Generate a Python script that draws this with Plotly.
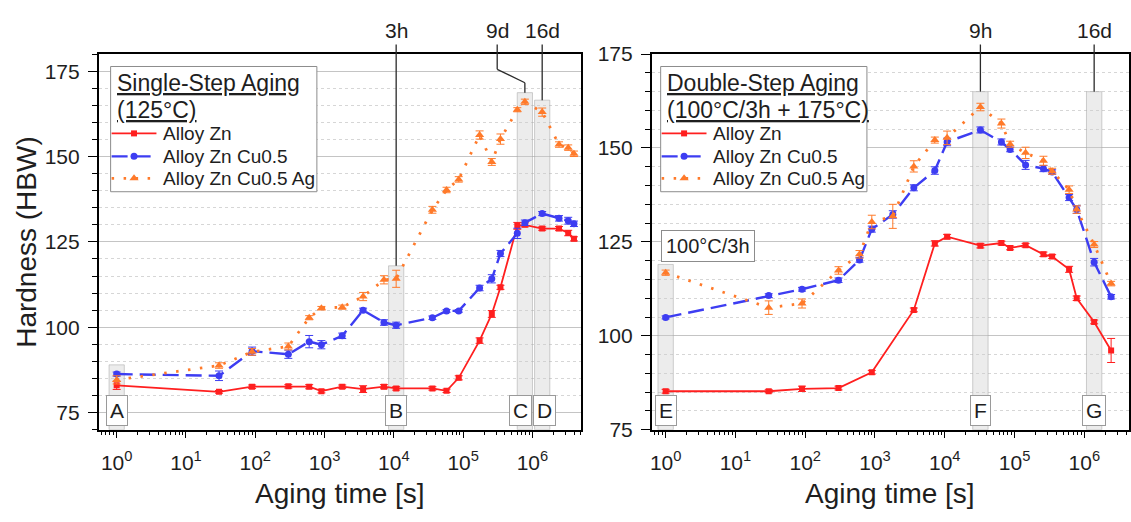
import numpy as np
import plotly.graph_objects as go

# ---------------- single-step aging (125 °C) ----------------
single_time = [1, 30, 90, 300, 600, 900, 1800, 3600, 7200, 10800, 36000, 57600, 86400,
               172800, 259200, 345600, 604800, 777600, 1382400, 2419200, 3283200, 3974400]
single_zn = [83.0, 81.1, 82.6, 82.7, 82.6, 81.3, 82.6, 81.9, 82.6, 82.1, 82.1, 81.4, 85.2,
             96.1, 103.9, 111.7, 129.7, 130.0, 128.9, 128.9, 127.6, 125.9]
single_zn_err = [1.2, 0.4, 0.5, 0.5, 0.6, 0.5, 0.5, 1.0, 0.6, 0.5, 0.5, 0.5, 0.6,
                 0.8, 1.0, 0.6, 1.0, 0.6, 0.5, 0.6, 0.8, 0.6]
single_cu = [86.3, 85.8, 93.0, 92.1, 95.8, 94.9, 97.5, 105.0, 101.4, 100.6, 102.8, 104.8, 104.8,
             111.5, 114.2, 121.6, 127.5, 130.6, 133.3, 131.9, 131.2, 130.3]
single_cu_err = [0.6, 1.4, 1.2, 1.2, 1.8, 1.2, 0.8, 0.6, 0.8, 0.9, 0.5, 0.4, 0.4,
                 0.8, 1.2, 0.9, 1.5, 0.8, 0.6, 0.8, 1.0, 0.8]
single_ag = [84.6, 88.8, 92.8, 94.4, 102.8, 105.6, 105.9, 109.0, 113.9, 114.2, 134.4, 140.2, 143.3,
             156.3, 148.4, 155.1, 163.7, 166.0, 163.0, 153.5, 152.6, 150.8]
single_ag_err = [1.2, 0.8, 1.0, 1.0, 0.6, 0.5, 0.6, 1.2, 1.2, 2.5, 1.0, 0.8, 0.8,
                 1.2, 1.0, 1.5, 0.6, 0.8, 1.2, 0.8, 0.8, 0.8]

# ---------------- double-step aging (100 °C/3h + 175 °C) ----------------
double_time_zn = [1, 30, 90, 300, 900, 3600, 7200, 10800, 32400, 64800, 86400, 144000,
                  259200, 345600, 604800, 777600, 1382400, 2419200]
double_zn = [85.25, 85.25, 85.9, 86.1, 90.3, 106.9, 124.6, 126.4, 124.0, 124.7, 123.4, 124.1,
             121.7, 121.1, 117.7, 110.0, 103.7, 96.1]
double_zn_err = [0.5, 0.4, 0.7, 0.5, 0.5, 0.5, 0.7, 0.6, 0.6, 0.5, 0.5, 0.5,
                 0.6, 0.5, 0.8, 0.6, 0.5, 3.2]
double_time = [1, 30, 90, 300, 600, 900, 1800, 3600, 7200, 10800, 32400, 64800, 86400, 144000,
               259200, 345600, 604800, 777600, 1382400, 2419200]
double_cu = [104.9, 110.7, 112.4, 114.8, 120.2, 128.4, 132.3, 139.4, 144.0, 151.6, 154.8, 151.6,
             149.6, 145.5, 144.5, 143.6, 136.8, 133.6, 119.6, 110.4]
double_cu_err = [0.4, 0.5, 0.5, 0.6, 0.6, 0.8, 1.0, 0.8, 1.0, 1.0, 0.8, 0.8,
                 0.6, 1.2, 0.8, 0.6, 0.8, 1.0, 1.0, 0.6]
double_ag = [116.8, 107.5, 108.6, 117.4, 121.7, 130.3, 131.8, 145.1, 152.1, 152.7, 160.9, 156.5,
             151.0, 148.7, 146.6, 143.8, 138.9, 133.6, 124.3, 113.9]
double_ag_err = [0.7, 1.8, 1.2, 1.0, 1.0, 1.8, 3.2, 1.5, 0.8, 1.8, 1.0, 1.2,
                 0.8, 1.5, 1.2, 0.8, 1.0, 1.0, 0.8, 0.6]

series_names = ["Alloy Zn", "Alloy Zn Cu0.5", "Alloy Zn Cu0.5 Ag"]
single_title = ["Single-Step Aging", "(125°C)"]
double_title = ["Double-Step Aging", "(100°C/3h + 175°C)"]
preaging_note = "100°C/3h"

# highlighted states: (letter, time, top of band)
single_marks = [("A", 1, 89), ("B", 10800, 118), ("C", 777600, 168.7), ("D", 1382400, 166.5)]
double_marks = [("E", 1, 119), ("F", 32400, 165), ("G", 1382400, 165)]
single_times_lbl = [("3h", 10800), ("9d", 777600), ("16d", 1382400)]
double_times_lbl = [("9h", 32400), ("16d", 1382400)]

decades = [10 ** k for k in range(0, 7)]
decade_text = ["10<sup>%d</sup>" % k for k in range(0, 7)]

# ---------------- page geometry (pixels) ----------------
W, H = 1131, 522
FONT = "Liberation Sans, Arial, sans-serif"
TXT = "#1e1e1e"
RED, BLUE, ORANGE = "#ff1f1f", "#3d3df2", "#ff7a2a"
GRID, MGRID = "#c4c4c4", "#d6d6d6"

xdom1 = [97 / W, 581 / W]
xdom2 = [652 / W, 1.0]
ydom = [(H - 437) / H, (H - 44) / H]
xr1 = [-0.26, 6.70]
xr2 = [-0.20, 6.64]
yr1 = [70, 180]
yr2 = [75, 175]


def py(v, yr):
    """paper y of a data value"""
    return ydom[0] + (v - yr[0]) / (yr[1] - yr[0]) * (ydom[1] - ydom[0])


def px_paper(pix_from_top):
    return (H - pix_from_top) / H


band_f = 10 ** 0.11
fig = go.Figure()

styles = [
    dict(color=RED, dash="solid", symbol="square", width=1.8, size=6),
    dict(color=BLUE, dash="16px,7px", symbol="circle", width=2.4, size=7),
    dict(color=ORANGE, dash="2.5px,9.5px", symbol="triangle-up", width=2.8, size=8),
]


def add_series(t, v, e, st, name, xa, ya):
    fig.add_trace(go.Scatter(
        x=t, y=v, name=name, mode="lines+markers", showlegend=False,
        line=dict(color=st["color"], width=st["width"], dash=st["dash"]),
        marker=dict(symbol=st["symbol"], size=st["size"], color=st["color"]),
        error_y=dict(type="data", array=e, color=st["color"], thickness=1, width=4),
        xaxis=xa, yaxis=ya,
    ))


left_sets = [(single_time, single_zn, single_zn_err), (single_time, single_cu, single_cu_err),
             (single_time, single_ag, single_ag_err)]
right_sets = [(double_time_zn, double_zn, double_zn_err), (double_time, double_cu, double_cu_err),
              (double_time, double_ag, double_ag_err)]
for (t, v, e), st, nm in zip(left_sets, styles, series_names):
    add_series(t, v, e, st, nm, "x", "y")
for (t, v, e), st, nm in zip(right_sets, styles, series_names):
    add_series(t, v, e, st, nm, "x2", "y2")

shapes = []
annotations = []


def txt(text, **kw):
    d = dict(text=text, showarrow=False, xanchor="center", yanchor="middle",
             font=dict(size=kw.pop("size", 21), color=TXT, family=FONT))
    d.update(kw)
    annotations.append(d)


def bands(marks, xref, yref, yr):
    for letter, t, top in marks:
        shapes.append(dict(type="rect", xref=xref, yref=yref, x0=t / band_f, x1=t * band_f,
                           y0=yr[0], y1=top, fillcolor="rgba(205,205,205,0.38)",
                           line=dict(color="rgba(170,170,170,0.55)", width=1), layer="between"))
        shift = {"C": -0.06, "D": 0.04}.get(letter, 0.0)
        txt(letter, xref=xref, yref="paper", x=np.log10(t) + shift, y=px_paper(417),
            bgcolor="white", bordercolor="#9a9a9a", borderwidth=1, borderpad=3)


bands(single_marks, "x", "y", yr1)
bands(double_marks, "x2", "y2", yr2)

# time labels with leader lines above the panels
top_lbl_y = px_paper(19)
line_start = px_paper(34)
lead = dict(color="#2a2a2a", width=1.3)
tops1 = {t: top for _, t, top in single_marks}
tops2 = {t: top for _, t, top in double_marks}
for lbl, t in single_times_lbl:
    if lbl == "9d":
        t_lbl = 3.1e5
        kink_hi, kink_lo = px_paper(60), px_paper(74)
        shapes.append(dict(type="line", xref="x", yref="paper", x0=t_lbl, x1=t_lbl,
                           y0=line_start, y1=kink_hi, line=lead))
        shapes.append(dict(type="line", xref="x", yref="paper", x0=t_lbl, x1=t,
                           y0=kink_hi, y1=kink_lo, line=lead))
        shapes.append(dict(type="line", xref="x", yref="paper", x0=t, x1=t,
                           y0=kink_lo, y1=py(tops1[t], yr1), line=lead))
    else:
        t_lbl = t
        shapes.append(dict(type="line", xref="x", yref="paper", x0=t, x1=t,
                           y0=line_start, y1=py(tops1[t], yr1), line=lead))
    txt(lbl, xref="x", yref="paper", x=np.log10(t_lbl), y=top_lbl_y)
for lbl, t in double_times_lbl:
    shapes.append(dict(type="line", xref="x2", yref="paper", x0=t, x1=t,
                       y0=line_start, y1=py(tops2[t], yr2), line=lead))
    txt(lbl, xref="x2", yref="paper", x=np.log10(t), y=top_lbl_y)

# pre-aging note
txt(preaging_note, xref="paper", yref="paper", x=661 / W, xanchor="left", y=px_paper(245),
    bgcolor="white", bordercolor="#8c8c8c", borderwidth=1, borderpad=4, size=20)

# axis titles
txt("Hardness (HBW)", xref="paper", yref="paper", x=25 / W, y=(ydom[0] + ydom[1]) / 2,
    textangle=-90, size=28)
for dom in (xdom1, xdom2):
    txt("Aging time [s]", xref="paper", yref="paper", x=(dom[0] + dom[1]) / 2,
        y=px_paper(504), size=28)

# ---------------- legend boxes (drawn on a full-page pixel overlay) ----------------
LEG_W, LEG_TOP, LEG_BOT = 207, 57, 188
title_rows = [74, 103]
entry_rows = [127, 151, 174]


def legend_box(x0, title_lines):
    fig.add_trace(go.Scatter(
        x=[x0, x0 + LEG_W, x0 + LEG_W, x0, x0], y=[LEG_TOP, LEG_TOP, LEG_BOT, LEG_BOT, LEG_TOP],
        mode="lines", fill="toself", fillcolor="white", line=dict(color="#8c8c8c", width=1),
        hoverinfo="skip", showlegend=False, xaxis="x5", yaxis="y5"))
    for line, yy in zip(title_lines, title_rows):
        txt("<u>%s</u>" % line, xref="x5", yref="y5", x=x0 + 4, xanchor="left", y=yy, size=23)
    for st, nm, yy in zip(styles, series_names, entry_rows):
        fig.add_trace(go.Scatter(
            x=[x0 + 1, x0 + 46], y=[yy, yy], mode="lines",
            line=dict(color=st["color"], width=st["width"], dash=st["dash"]),
            hoverinfo="skip", showlegend=False, xaxis="x5", yaxis="y5"))
        fig.add_trace(go.Scatter(
            x=[x0 + 23.5], y=[yy], mode="markers",
            marker=dict(symbol=st["symbol"], size=st["size"], color=st["color"]),
            hoverinfo="skip", showlegend=False, xaxis="x5", yaxis="y5"))
        txt(nm, xref="x5", yref="y5", x=x0 + 51, xanchor="left", y=yy, size=19)


legend_box(109, single_title)
legend_box(661, double_title)

minor_x = [k * 10 ** d for d in range(-1, 7) for k in range(2, 10)]


def xaxis(dom, rng):
    return dict(type="log", domain=dom, range=rng, showline=True, linecolor="black",
                linewidth=1.5, mirror=True, ticks="outside", ticklen=7, tickwidth=1.3,
                tickcolor="black", tickvals=decades, ticktext=decade_text,
                tickfont=dict(size=21, color=TXT, family=FONT), ticklabelstandoff=6,
                showgrid=False, zeroline=False,
                minor=dict(tickmode="array", tickvals=minor_x, ticks="outside", ticklen=4,
                           tickwidth=1, tickcolor="black", showgrid=False))


def yaxis(anchor, rng):
    return dict(domain=ydom, anchor=anchor, range=rng, showline=True, linecolor="black",
                linewidth=1.5, mirror=True, ticks="outside", ticklen=9, tickwidth=1.3,
                tickcolor="black", tick0=0, dtick=25,
                tickfont=dict(size=21, color=TXT, family=FONT), ticklabelstandoff=4,
                showgrid=True, gridcolor=GRID, gridwidth=1, zeroline=False,
                minor=dict(dtick=5, tick0=0, ticks="outside", ticklen=5, tickwidth=1,
                           tickcolor="black", showgrid=True, gridcolor=MGRID, griddash="dot"))


def yright(over, anchor, rng):
    return dict(overlaying=over, anchor=anchor, side="right", range=rng, domain=ydom,
                showline=False, ticks="inside", ticklen=9, tickwidth=1.3, tickcolor="black",
                tick0=0, dtick=25, showticklabels=False, showgrid=False, zeroline=False,
                minor=dict(dtick=5, tick0=0, ticks="inside", ticklen=5, tickwidth=1,
                           tickcolor="black", showgrid=False))


fig.update_layout(
    width=W, height=H, margin=dict(l=0, r=0, t=0, b=0),
    paper_bgcolor="white", plot_bgcolor="rgba(0,0,0,0)",
    font=dict(family=FONT, color=TXT), showlegend=False,
    xaxis=xaxis(xdom1, xr1), yaxis=yaxis("x", yr1),
    xaxis2=xaxis(xdom2, xr2), yaxis2=yaxis("x2", yr2),
    yaxis3=yright("y", "x", yr1), yaxis4=yright("y2", "x2", yr2),
    xaxis5=dict(domain=[0, 1], range=[0, W], visible=False, anchor="y5", fixedrange=True),
    yaxis5=dict(domain=[0, 1], range=[H, 0], visible=False, anchor="x5", fixedrange=True),
    shapes=shapes, annotations=annotations,
)

fig.write_html("out.html")
